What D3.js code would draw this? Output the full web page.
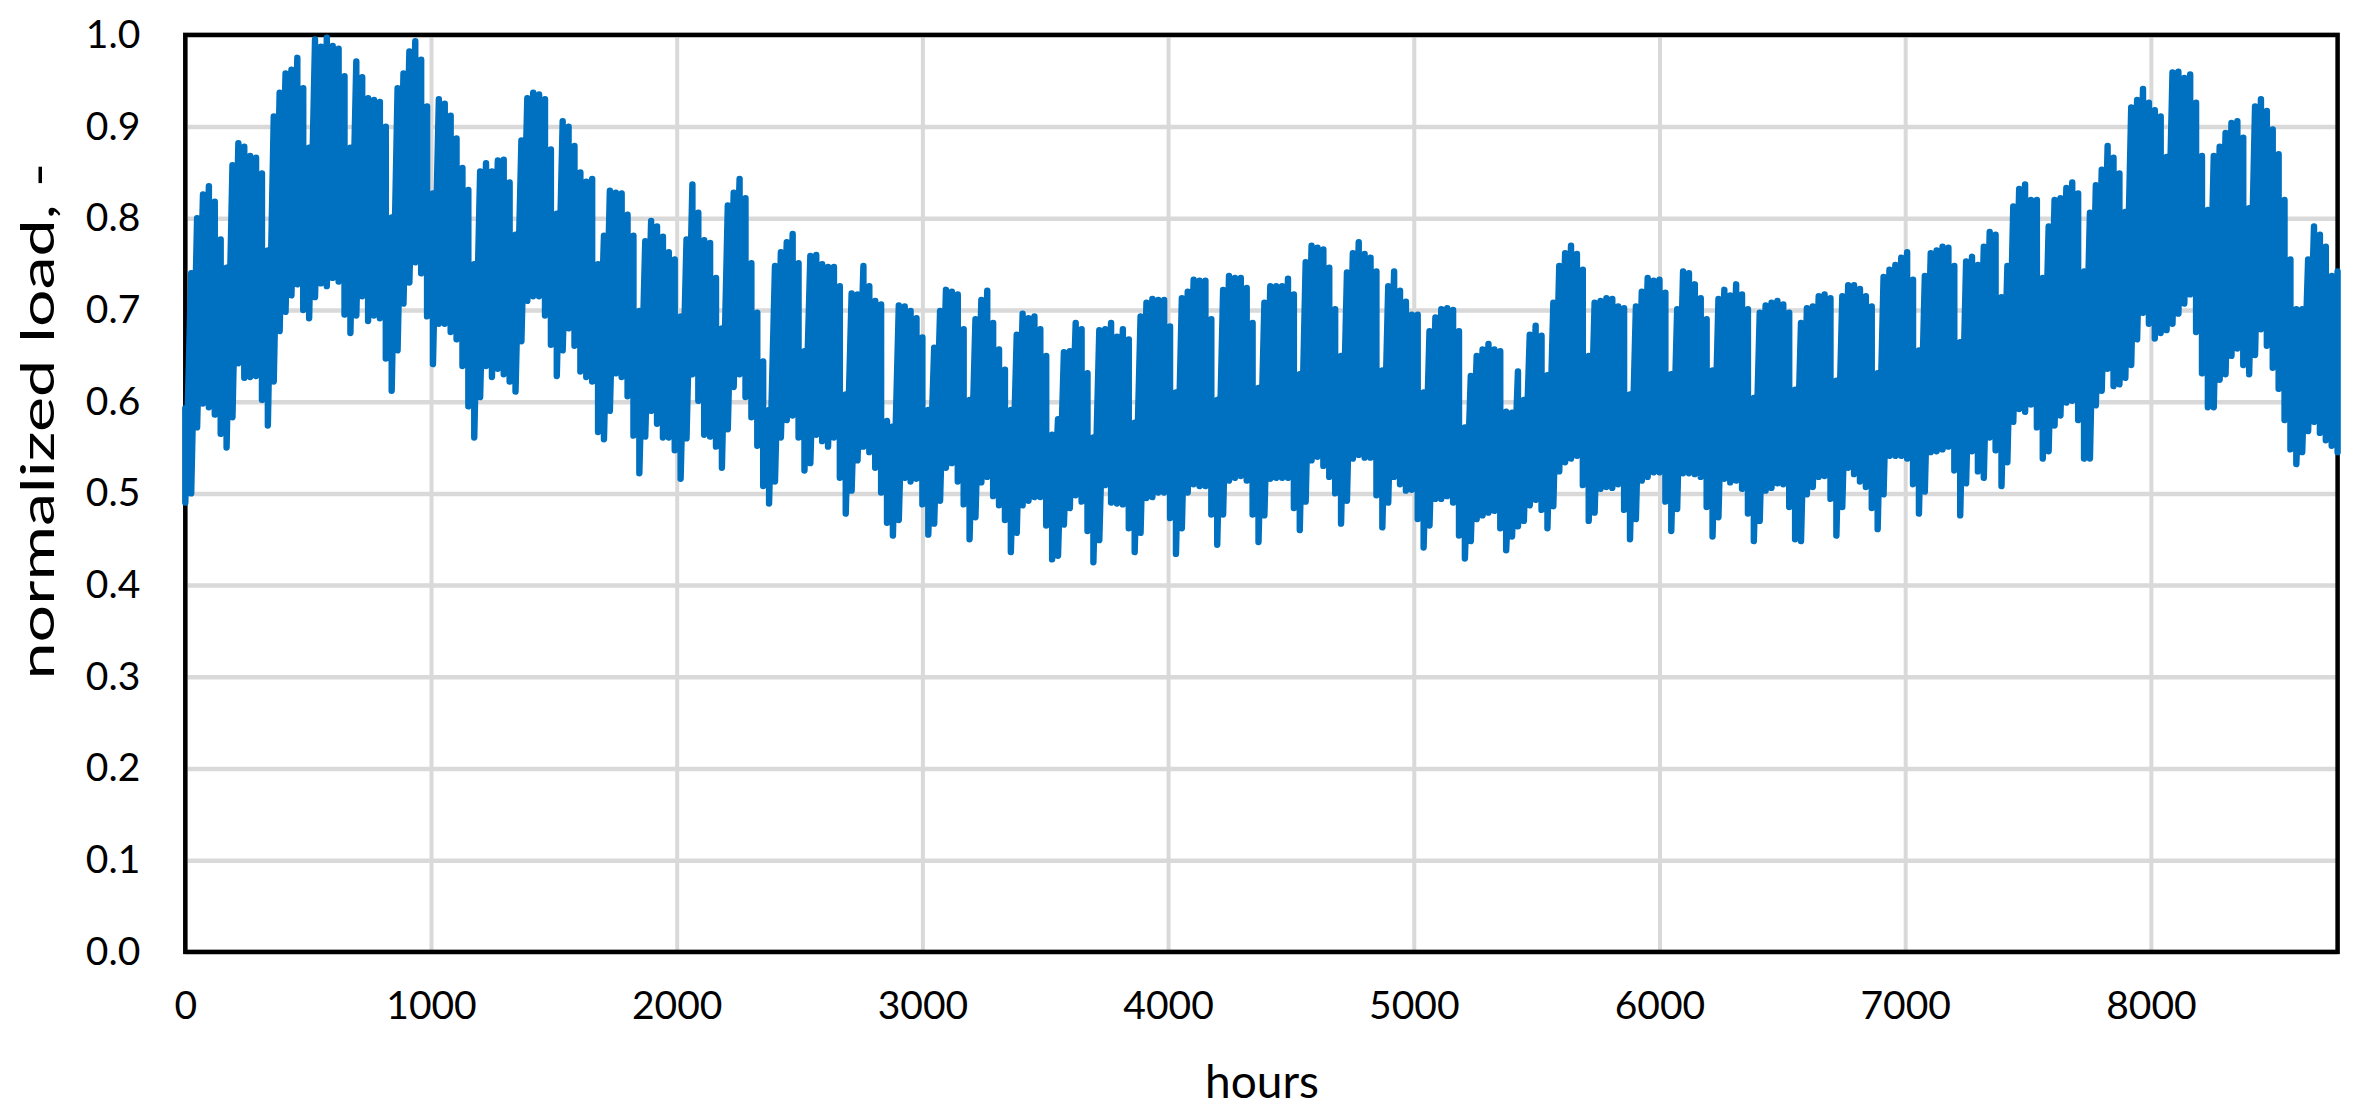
<!DOCTYPE html>
<html>
<head>
<meta charset="utf-8">
<script src="https://cdn.jsdelivr.net/npm/d3@7"></script>
<style>
  html, body { margin: 0; padding: 0; background: #fff; }
  text { font-family: Lato, "Open Sans", sans-serif; fill: #000; }
</style>
</head>
<body>
<svg id="chart"></svg>
<script>
//Chart data: highest and lowest load of each day of the year

const dailyHigh = [
  .593,.740,.800,.826,.835,.818,.777,.746,.858,.882,
  .878,.868,.866,.849,.765,.911,.937,.958,.962,.975,
  .942,.877,.995,.987,.997,.988,.985,.955,.877,.971,
  .954,.931,.929,.927,.900,.801,.942,.958,.982,.993,
  .973,.922,.827,.930,.925,.912,.887,.855,.831,.750,
  .851,.860,.851,.863,.864,.839,.782,.885,.931,.937,
  .935,.930,.875,.805,.906,.900,.879,.850,.840,.843,
  .750,.781,.830,.828,.827,.804,.781,.699,.775,.797,
  .791,.780,.763,.755,.693,.777,.837,.806,.776,.773,
  .735,.680,.814,.828,.843,.822,.751,.697,.644,.591,
  .748,.763,.774,.783,.751,.655,.759,.760,.750,.747,
  .747,.726,.608,.718,.717,.748,.726,.710,.706,.579,
  .573,.705,.704,.699,.691,.670,.591,.659,.699,.722,
  .720,.717,.679,.602,.690,.711,.721,.686,.657,.635,
  .591,.673,.696,.691,.693,.679,.650,.564,.581,.654,
  .655,.686,.679,.631,.561,.678,.679,.686,.671,.679,
  .668,.577,.693,.708,.712,.711,.711,.682,.610,.713,
  .720,.733,.732,.732,.690,.602,.722,.737,.735,.735,
  .724,.686,.615,.708,.726,.726,.726,.734,.717,.630,
  .752,.770,.768,.766,.746,.701,.650,.741,.762,.774,
  .761,.757,.742,.634,.726,.742,.721,.709,.695,.695,
  .610,.677,.692,.701,.702,.700,.677,.572,.628,.650,
  .657,.663,.657,.655,.589,.588,.633,.602,.673,.683,
  .672,.629,.708,.748,.762,.770,.761,.744,.650,.708,
  .710,.713,.712,.704,.702,.608,.704,.720,.735,.732,
  .733,.719,.630,.701,.742,.740,.728,.713,.690,.634,
  .712,.722,.716,.728,.717,.701,.604,.697,.705,.708,
  .710,.706,.697,.613,.686,.702,.704,.715,.717,.713,
  .623,.715,.727,.727,.723,.715,.704,.631,.736,.744,
  .749,.757,.763,.733,.656,.737,.762,.765,.769,.768,
  .748,.665,.753,.758,.749,.769,.785,.782,.714,.748,
  .813,.832,.837,.820,.820,.735,.791,.820,.822,.833,
  .839,.827,.742,.806,.836,.853,.879,.866,.849,.807,
  .921,.929,.941,.926,.918,.911,.867,.959,.960,.953,
  .957,.926,.868,.809,.868,.878,.893,.904,.906,.888,
  .811,.922,.930,.917,.897,.870,.820,.755,.701,.701,
  .755,.791,.782,.769,.737,.742,
];

const dailyLow = [
  .490,.500,.572,.598,.594,.586,.565,.550,.583,.642,
  .626,.627,.628,.602,.574,.622,.677,.698,.716,.728,
  .700,.691,.714,.729,.726,.735,.731,.695,.675,.694,
  .715,.688,.694,.691,.647,.612,.656,.707,.730,.752,
  .740,.693,.641,.685,.685,.676,.668,.639,.595,.561,
  .605,.639,.627,.636,.630,.622,.611,.666,.710,.715,
  .715,.694,.662,.628,.656,.680,.661,.633,.627,.622,
  .567,.559,.590,.631,.627,.606,.563,.522,.562,.590,
  .576,.561,.561,.547,.516,.560,.630,.601,.564,.562,
  .551,.528,.570,.616,.630,.605,.583,.552,.508,.489,
  .513,.561,.580,.585,.561,.525,.533,.564,.557,.551,
  .561,.517,.478,.503,.536,.551,.545,.528,.501,.468,
  .454,.471,.517,.513,.516,.488,.455,.467,.492,.528,
  .533,.513,.488,.450,.474,.512,.518,.497,.487,.471,
  .436,.457,.487,.492,.496,.496,.465,.428,.432,.466,
  .484,.498,.491,.459,.425,.449,.509,.490,.489,.488,
  .462,.436,.457,.495,.496,.501,.501,.473,.434,.462,
  .501,.510,.508,.508,.477,.444,.477,.514,.517,.519,
  .514,.477,.447,.476,.516,.517,.517,.517,.484,.460,
  .491,.536,.540,.530,.518,.500,.467,.492,.538,.542,
  .539,.539,.498,.463,.490,.518,.510,.503,.504,.472,
  .441,.465,.494,.494,.497,.490,.454,.429,.448,.472,
  .476,.479,.481,.462,.438,.453,.464,.470,.487,.493,
  .482,.462,.486,.524,.534,.538,.541,.509,.470,.479,
  .505,.507,.506,.510,.482,.450,.472,.514,.518,.523,
  .523,.491,.459,.483,.522,.522,.521,.518,.485,.453,
  .474,.516,.512,.514,.505,.478,.448,.470,.503,.506,
  .511,.510,.485,.450,.448,.499,.507,.518,.519,.494,
  .454,.485,.528,.521,.513,.507,.484,.461,.499,.541,
  .541,.541,.538,.510,.478,.502,.545,.546,.548,.551,
  .525,.476,.511,.546,.524,.517,.561,.547,.508,.534,
  .578,.592,.589,.597,.572,.538,.546,.574,.585,.599,
  .601,.580,.538,.538,.596,.612,.636,.617,.619,.626,
  .640,.668,.697,.685,.669,.675,.678,.685,.696,.707,
  .717,.676,.631,.594,.594,.624,.630,.650,.658,.640,
  .630,.651,.679,.661,.637,.614,.580,.548,.532,.545,
  .568,.578,.566,.558,.552,.545,
];

const xTicks = [0, 1000, 2000, 3000, 4000, 5000, 6000, 7000, 8000];
const yTicks = [0, 0.1, 0.2, 0.3, 0.4, 0.5, 0.6, 0.7, 0.8, 0.9, 1.0];
const xLabel = 'hours';
const yLabel = 'normalized load, -';
const hoursInYear = 8760;

//Layout

const svgWidth = 2358;
const svgHeight = 1117;
const margin = { left: 185.3, right: 20.4, top: 34.9, bottom: 165.1 };
const width = svgWidth - margin.left - margin.right;
const height = svgHeight - margin.top - margin.bottom;
const tickFontSize = 39;
const labelFontSize = 46;

const svg = d3
  .select('#chart')
  .attr('width', svgWidth)
  .attr('height', svgHeight)
  .style('display', 'block');

const chart = svg
  .append('g')
  .attr('transform', `translate(${margin.left},${margin.top})`);

// Scales

const xScale = d3.scaleLinear().domain([0, hoursInYear]).range([0, width]);
const yScale = d3.scaleLinear().domain([0, 1]).range([height, 0]);

// Grid

const gridColor = '#d9d9d9';

chart
  .append('g')
  .attr('class', 'x_grid')
  .attr('transform', `translate(0,${height})`)
  .call(d3.axisBottom(xScale).tickValues(xTicks).tickSize(-height).tickFormat(''))
  .call(g => g.select('.domain').remove())
  .selectAll('line')
  .attr('stroke', gridColor)
  .attr('stroke-width', 4);

chart
  .append('g')
  .attr('class', 'y_grid')
  .call(d3.axisLeft(yScale).tickValues(yTicks).tickSize(-width).tickFormat(''))
  .call(g => g.select('.domain').remove())
  .selectAll('line')
  .attr('stroke', gridColor)
  .attr('stroke-width', 4.5);

// Plot frame

chart
  .append('rect')
  .attr('x', xScale(0))
  .attr('y', yScale(1))
  .attr('width', xScale(hoursInYear) - xScale(0))
  .attr('height', yScale(0) - yScale(1))
  .attr('fill', 'none')
  .attr('stroke', '#000')
  .attr('stroke-width', 4.5);

// Axes

const xAxis = chart
  .append('g')
  .attr('class', 'x_axis')
  .attr('transform', `translate(0,${height})`)
  .call(d3.axisBottom(xScale).tickValues(xTicks).tickSize(0).tickPadding(39).tickFormat(d3.format('d')));

const yAxis = chart
  .append('g')
  .attr('class', 'y_axis')
  .call(d3.axisLeft(yScale).tickValues(yTicks).tickSize(0).tickPadding(45).tickFormat(d3.format('.1f')));

[xAxis, yAxis].forEach(axis => {
  axis.select('.domain').remove();
  axis.selectAll('text').attr('font-size', tickFontSize).style('font-family', null);
});

// Load line: one peak and one trough for every day

const points = dailyHigh.flatMap((high, day) => [
  { hour: day * 24, load: high },
  { hour: day * 24, load: dailyLow[day] },
]);

const lineGenerator = d3
  .line()
  .x(d => xScale(d.hour))
  .y(d => yScale(d.load));

chart
  .append('path')
  .datum(points)
  .attr('class', 'load_line')
  .attr('fill', 'none')
  .attr('stroke', '#0070c0')
  .attr('stroke-width', 6.4)
  .attr('stroke-linejoin', 'round')
  .attr('stroke-linecap', 'round')
  .attr('d', lineGenerator);

// Axis labels, the y label is stretched along its length as in the original

svg
  .append('text')
  .attr('class', 'x_axis_label')
  .attr('x', 1262)
  .attr('y', 1098)
  .attr('text-anchor', 'middle')
  .attr('font-size', labelFontSize)
  .text(xLabel);

svg
  .append('text')
  .attr('class', 'y_axis_label')
  .attr('transform', 'translate(54,421) rotate(-90)')
  .attr('text-anchor', 'middle')
  .attr('font-size', labelFontSize)
  .attr('textLength', 517)
  .attr('lengthAdjust', 'spacingAndGlyphs')
  .text(yLabel);
</script>
</body>
</html>
